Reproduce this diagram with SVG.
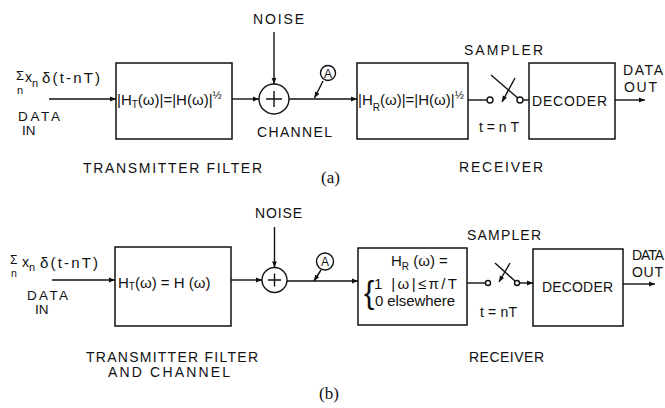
<svg xmlns="http://www.w3.org/2000/svg" width="665" height="408" viewBox="0 0 665 408">
<style>
.l{font-family:"Liberation Sans",Arial,sans-serif;font-size:14px;fill:#111}
.f{font-family:"Liberation Sans",Arial,sans-serif;font-size:15px;fill:#111}
.s{font-family:"Liberation Serif","Times New Roman",serif;font-size:17px;fill:#111}
.b{fill:none;stroke:#111;stroke-width:1.5}
.w{fill:none;stroke:#111;stroke-width:1.4}
.c{fill:#fff;stroke:#111;stroke-width:1.4}
.a{fill:none;stroke:#111;stroke-width:1.4;marker-end:url(#arr)}
</style>
<defs>
<marker id="arr" viewBox="0 0 10 10" refX="10" refY="5" markerWidth="8" markerHeight="6" orient="auto" markerUnits="userSpaceOnUse"><path d="M0,1 L10,5 L0,9 z" fill="#111"/></marker>
</defs>
<rect width="665" height="408" fill="#fff"/>

<!-- ===== (a) ===== -->
<g id="a-input">
<text class="l" x="16" y="80"><tspan style="font-size:13px">Σ</tspan><tspan x="17" dy="14" style="font-size:11px">n</tspan><tspan x="25" dy="-12">x</tspan><tspan dy="5" style="font-size:11px">n</tspan><tspan x="42" dy="-4" style="font-size:15px" textLength="58">δ(t-nT)</tspan></text>
<text class="l" x="18" y="121" style="font-size:13.5px"><tspan textLength="42">DATA</tspan><tspan x="22" dy="14">IN</tspan></text>
</g>
<g id="a-tx">
<rect class="b" x="116" y="63" width="116" height="76"/>
<text class="f" x="117" y="105">|H<tspan font-size="10" dy="3">T</tspan><tspan dy="-3">(ω)|=|H(ω)|</tspan><tspan font-size="11" dy="-6">½</tspan></text>
<text class="l" x="83" y="173" textLength="179">TRANSMITTER FILTER</text>
</g>
<g id="a-adder">
<circle class="w" cx="274" cy="99" r="15"/>
<path class="w" d="M266,99 H282 M274,91 V107"/>
<text class="l" x="253" y="24" textLength="51">NOISE</text>
<text class="l" x="257" y="137" textLength="75">CHANNEL</text>
</g>
<g id="a-A">
<circle class="w" cx="328" cy="73" r="7.5"/>
<text class="l" x="328" y="77.5" style="font-size:12px" text-anchor="middle">A</text>
</g>
<g id="a-rx">
<rect class="b" x="357" y="63" width="111" height="76"/>
<text class="f" x="358" y="105">|H<tspan font-size="10" dy="6">R</tspan><tspan dy="-6">(ω)|=|H(ω)|</tspan><tspan font-size="11" dy="-6">½</tspan></text>
<text class="l" x="459" y="172" textLength="84">RECEIVER</text>
</g>
<g id="a-sampler">
<circle class="c" cx="490" cy="100" r="3"/>
<circle class="c" cx="520" cy="100" r="3"/>
<text class="l" x="464" y="55" textLength="79">SAMPLER</text>
<text class="l" x="479" y="132" textLength="40">t=nT</text>
</g>
<g id="a-decoder">
<rect class="b" x="529" y="63" width="86" height="76"/>
<text class="l" x="532" y="106" textLength="75">DECODER</text>
<text class="l" x="623" y="75"><tspan textLength="40">DATA</tspan><tspan x="624" dy="17" textLength="33">OUT</tspan></text>
</g>
<text class="s" x="321" y="183">(a)</text>

<!-- ===== (b) ===== -->
<g id="b-input">
<text class="l" x="10" y="264"><tspan style="font-size:12px">Σ</tspan><tspan x="11" dy="13" style="font-size:10.5px">n</tspan><tspan x="22" dy="-10">x</tspan><tspan dy="4" style="font-size:11px">n</tspan><tspan x="40" dy="-3" style="font-size:15px" textLength="58">δ(t-nT)</tspan></text>
<text class="l" x="27" y="300" style="font-size:13.5px"><tspan textLength="41">DATA</tspan><tspan x="35" dy="14">IN</tspan></text>
</g>
<g id="b-tx">
<rect class="b" x="115" y="247" width="116" height="79"/>
<text class="f" x="118" y="288">H<tspan font-size="10" dy="2">T</tspan><tspan dy="-2">(ω) = H (ω)</tspan></text>
<text class="l" x="86" y="362"><tspan textLength="172">TRANSMITTER FILTER</tspan><tspan x="108" dy="15" textLength="122">AND CHANNEL</tspan></text>
</g>
<g id="b-adder">
<circle class="w" cx="274.5" cy="280" r="12.5"/>
<path class="w" d="M268,280 H281 M274.5,273.5 V286.5"/>
<text class="l" x="255" y="218" textLength="47">NOISE</text>
</g>
<g id="b-A">
<circle class="w" cx="325" cy="261.5" r="8.5"/>
<text class="l" x="325" y="266" style="font-size:12px" text-anchor="middle">A</text>
</g>
<g id="b-rx">
<rect class="b" x="358" y="248" width="109" height="77"/>
<text class="f" x="391" y="266">H<tspan font-size="10" dy="4">R</tspan><tspan dy="-4"> (ω) =</tspan></text>
<text class="l" x="364" y="303" style="font-size:31px;font-weight:300">{</text>
<text class="f" x="374" y="289"><tspan textLength="83">1  |ω|≤π/T</tspan><tspan x="375" dy="17" textLength="80">0 elsewhere</tspan></text>
<text class="l" x="469" y="362" textLength="75">RECEIVER</text>
</g>
<g id="b-sampler">
<circle class="c" cx="488" cy="283" r="2.5"/>
<circle class="c" cx="517" cy="283" r="2.5"/>
<text class="l" x="467" y="240" textLength="74">SAMPLER</text>
<text class="l" x="480" y="317" textLength="37">t = nT</text>
</g>
<g id="b-decoder">
<rect class="b" x="533" y="249" width="90" height="77"/>
<text class="l" x="542" y="292" textLength="71">DECODER</text>
<text class="l" x="632" y="260"><tspan textLength="32">DATA</tspan><tspan x="632" dy="17" textLength="31">OUT</tspan></text>
</g>
<text class="s" x="319" y="399">(b)</text>

<!-- ===== connectors ===== -->
<g id="connectors">
<path class="a" d="M49,99 H116"/>
<path class="a" d="M232,99 H259"/>
<path class="a" d="M274,32 V84"/>
<path class="a" d="M289,99 H357"/>
<path class="a" d="M323,81 L314.5,98"/>
<path class="w" d="M468,100 H487"/>
<path class="w" d="M491,75 L517.8,98"/>
<path class="a" d="M515,78 L502,102"/>
<path class="w" d="M523,100 H529"/>
<path class="a" d="M615,100 H645"/>

<path class="a" d="M52,280 H115"/>
<path class="a" d="M231,280 H262"/>
<path class="a" d="M274.5,227 V267.5"/>
<path class="a" d="M287,281 H358"/>
<path class="a" d="M321,270 L314,281"/>
<path class="w" d="M467,283 H485.5"/>
<path class="w" d="M495,263 L515.3,281.3"/>
<path class="a" d="M510,263 L499,282"/>
<path class="a" d="M519.5,283 H533"/>
<path class="a" d="M623,284 H655"/>
</g>
</svg>
